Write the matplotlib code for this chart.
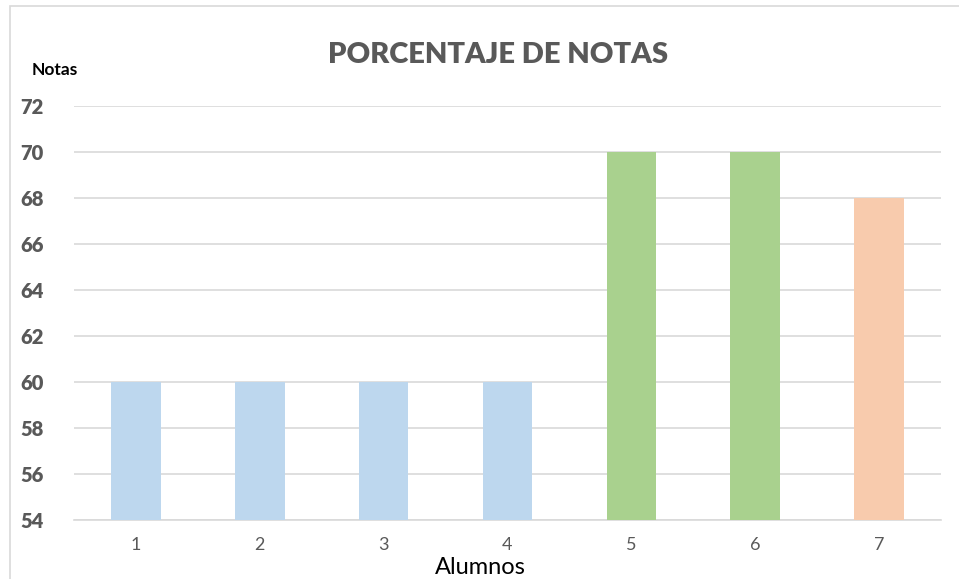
import matplotlib.pyplot as plt
from matplotlib.patches import Rectangle

# data
alumnos = ["1", "2", "3", "4", "5", "6", "7"]
notas = [60, 60, 60, 60, 70, 70, 68]
colores = ["#bdd7ee", "#bdd7ee", "#bdd7ee", "#bdd7ee", "#a9d18e", "#a9d18e", "#f8cbad"]
y_ticks = [54, 56, 58, 60, 62, 64, 66, 68, 70, 72]

plt.rcParams['font.family'] = ['Lato', 'DejaVu Sans']

fig = plt.figure(figsize=(9.59, 5.79), dpi=100)
ax = fig.add_axes([74 / 959, 1 - 520 / 579, 867 / 959, 414 / 579])

# chart area border
fig.patches.append(Rectangle((10 / 959, -0.05), 1.0, 1 - 6 / 579 + 0.05,
                             transform=fig.transFigure, fill=False,
                             edgecolor="#d9d9d9", linewidth=1.2))

x = range(len(alumnos))
ax.bar(x, notas, width=0.4, color=colores, zorder=3)

ax.set_ylim(54, 72)
ax.set_xlim(-0.5, len(alumnos) - 0.5)
ax.set_yticks(y_ticks, labels=[str(v) for v in y_ticks], fontweight="heavy",
              fontsize=14.5, color="#595959")
ax.set_xticks(list(x), labels=alumnos, fontsize=13, color="#595959")
ax.grid(axis="y", color="#d9d9d9", linewidth=1.2, zorder=0)

for s in ["top", "right", "left"]:
    ax.spines[s].set_visible(False)
ax.spines["bottom"].set_color("#d9d9d9")
ax.spines["bottom"].set_linewidth(1.2)
ax.tick_params(length=0)
ax.tick_params(axis="y", pad=22)
ax.tick_params(axis="x", pad=12)

fig.text(498 / 959, 1 - 55 / 579, "PORCENTAJE DE NOTAS", ha="center", va="center",
         fontsize=21, fontweight="heavy", color="#595959")
fig.text(32 / 959, 1 - 70 / 579, "Notas", ha="left", va="center",
         fontsize=12.5, fontweight="bold", color="black")
fig.text(480 / 959, 1 - 568 / 579, "Alumnos", ha="center", va="center",
         fontsize=17, color="black")

fig.savefig("out.png", dpi=100)
